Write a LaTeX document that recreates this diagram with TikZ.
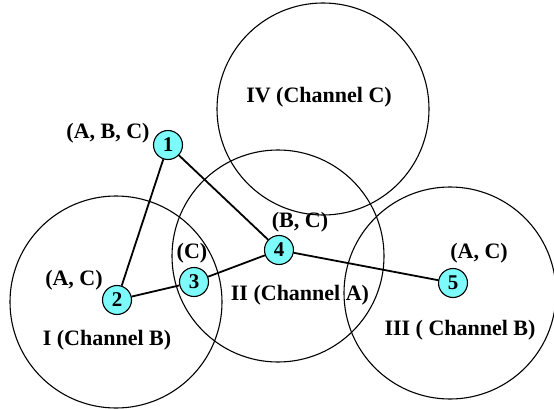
\documentclass[tikz,border=0pt]{standalone}
\usepackage{fontspec}
\setmainfont{Liberation Serif}
\usepackage{tikz}
\usetikzlibrary{positioning}
\definecolor{nodecyan}{RGB}{125,250,250}
\tikzset{station/.style = {circle,draw,fill=nodecyan,line width=1.1pt,inner sep=0pt,minimum size=29pt,font=\fontsize{21}{21}\selectfont\bfseries}}
\tikzset{tag/.style = {inner sep=0pt,font=\fontsize{22}{22}\selectfont\bfseries}}

\begin{document}
\begin{tikzpicture}[x=1pt,y=-1pt]
            \useasboundingbox (0,0) rectangle (554,409);
            % ranges of the four cells
            \foreach \cx/\cy in {116/302, 278/256, 450/293, 323/109}
                \draw[line width=1.1pt] (\cx,\cy) circle (106pt);
            \node[tag] (r1) at (107,340) {I (Channel B)};
            \node[tag] (r2) at (300,295) {II (Channel A)};
            \node[tag] (r3) at (460,330) {III ( Channel B)};
            \node[tag] (r4) at (319,97) {IV (Channel C)};
            % stations
            \node[station] (s1) at (168,145) {1};
            \node[station] (s2) at (117,300) {2};
            \node[station] (s3) at (194,282) {3};
            \node[station] (s4) at (279,250) {4};
            \node[station] (s5) at (453,283) {5};
            \node[tag] (c1) at (108,133) {(A, B, C)};
            \node[tag] (c2) at (74,280) {(A, C)};
            \node[tag] (c3) at (192,253) {(C)};
            \node[tag] (c4) at (300,222) {(B, C)};
            \node[tag] (c5) at (479,253) {(A, C)};
            \foreach \a/\b in {1/2,1/4,2/3,3/4,4/5}
                \draw[line width=1.8pt] (s\a) -- (s\b);
        \end{tikzpicture}
\end{document}
